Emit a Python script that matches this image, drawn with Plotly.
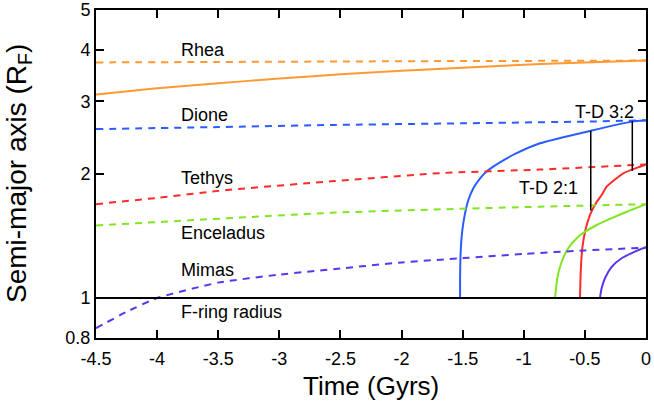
import math

import plotly.graph_objects as go

# time in Gyr (negative = past), semi-major axis in F-ring radii
# dashed = present-day orbits traced back, solid = migration tracks
RHEA_T_DASH = [-4.5, -3.5, -2.5, -1.5, -0.5, 0.0]
RHEA_A_DASH = [3.73, 3.74, 3.75, 3.76, 3.765, 3.77]
RHEA_T = [-4.5, -4.0, -3.5, -3.0, -2.5, -2.0, -1.5, -1.0, -0.5, 0.0]
RHEA_A = [3.12, 3.23, 3.32, 3.41, 3.49, 3.56, 3.62, 3.68, 3.73, 3.77]

DIONE_T_DASH = [-4.5, -3.5, -2.58, -1.5, -0.5, 0.0]
DIONE_A_DASH = [2.57, 2.60, 2.63, 2.655, 2.68, 2.70]
DIONE_T = [-1.521, -1.521, -1.5155, -1.5024, -1.4804, -1.4534, -1.4125, -1.3577,
           -1.2898, -1.2081, -1.0715, -0.867, -0.452, -0.115, 0.0]
DIONE_A = [1.0, 1.127, 1.308, 1.463, 1.606, 1.730, 1.846, 1.953,
           2.045, 2.123, 2.237, 2.375, 2.547, 2.68, 2.70]

TETHYS_T_DASH = [-4.5, -4.0, -3.5, -2.58, -1.68, -0.87, 0.0]
TETHYS_A_DASH = [1.69, 1.75, 1.82, 1.92, 2.01, 2.05, 2.11]
TETHYS_T = [-0.540, -0.534, -0.521, -0.499, -0.458, -0.403, -0.363, -0.322, -0.186, -0.05, 0.0]
TETHYS_A = [1.0, 1.158, 1.321, 1.449, 1.591, 1.713, 1.778, 1.863, 2.008, 2.083, 2.11]

ENCEL_T_DASH = [-4.5, -2.58, -1.68, -0.87, 0.0]
ENCEL_A_DASH = [1.50, 1.61, 1.642, 1.666, 1.69]
ENCEL_T = [-0.744, -0.726, -0.690, -0.636, -0.567, -0.499, -0.403, -0.295, -0.158, 0.0]
ENCEL_A = [1.0, 1.117, 1.225, 1.321, 1.397, 1.449, 1.504, 1.556, 1.620, 1.69]

MIMAS_T_DASH = [-4.5, -4.25, -4.0, -3.5, -3.0, -2.5, -2.0, -1.5, -1.0, -0.5, 0.0]
MIMAS_A_DASH = [0.845, 0.926, 1.0, 1.09, 1.14, 1.18, 1.22, 1.25, 1.28, 1.305, 1.325]
MIMAS_T = [-0.377, -0.363, -0.336, -0.281, -0.199, -0.104, 0.0]
MIMAS_A = [1.0, 1.056, 1.117, 1.191, 1.249, 1.291, 1.328]

FRING_T = [-4.5, 0.0]
FRING_A = [1.0, 1.0]

# resonance markers: (time, lower a, upper a)
TD21 = (-0.452, 1.63, 2.547)
TD32 = (-0.112, 2.037, 2.69)

Y_TICKS = [0.8, 1, 2, 3, 4, 5]
X_TICKS = [-4.5, -4, -3.5, -3, -2.5, -2, -1.5, -1, -0.5, 0]

ORANGE = "#FF9933"
BLUE = "#2B5CFF"
RED = "#FF2A2A"
GREEN = "#80E620"
PURPLE = "#5A35F0"

DASH = "7px,6px"
LW = 2

fig = go.Figure()


def add_line(t, a, color, dash="solid"):
    fig.add_trace(go.Scatter(
        x=t, y=a, mode="lines",
        line=dict(color=color, width=LW, dash=dash, shape="spline", smoothing=0.5),
        showlegend=False, hoverinfo="skip",
    ))


add_line(RHEA_T_DASH, RHEA_A_DASH, ORANGE, DASH)
add_line(RHEA_T, RHEA_A, ORANGE)
add_line(DIONE_T_DASH, DIONE_A_DASH, BLUE, DASH)
add_line(DIONE_T, DIONE_A, BLUE)
add_line(TETHYS_T_DASH, TETHYS_A_DASH, RED, DASH)
add_line(TETHYS_T, TETHYS_A, RED)
add_line(ENCEL_T_DASH, ENCEL_A_DASH, GREEN, DASH)
add_line(ENCEL_T, ENCEL_A, GREEN)
add_line(MIMAS_T_DASH, MIMAS_A_DASH, PURPLE, DASH)
add_line(MIMAS_T, MIMAS_A, PURPLE)
add_line(FRING_T, FRING_A, "black")

for t, lo, hi in (TD21, TD32):
    fig.add_trace(go.Scatter(
        x=[t, t], y=[lo, hi], mode="lines",
        line=dict(color="black", width=1.5),
        showlegend=False, hoverinfo="skip",
    ))

# annotations on a log axis take log10 positions
labels = [
    ("Rhea", -3.82, 4.0, "left"),
    ("Dione", -3.82, 2.78, "left"),
    ("Tethys", -3.82, 1.956, "left"),
    ("Enceladus", -3.82, 1.44, "left"),
    ("Mimas", -3.82, 1.17, "left"),
    ("F-ring radius", -3.82, 0.925, "left"),
    ("T-D 3:2", -0.34, 2.83, "center"),
    ("T-D 2:1", -0.798, 1.85, "center"),
]
for txt, x, y, anchor in labels:
    fig.add_annotation(x=x, y=math.log10(y), text=txt, showarrow=False,
                       xanchor=anchor, yanchor="middle", font=dict(size=18))

# axis titles placed by hand so the margins stay fixed
fig.add_annotation(x=0.5, y=0, xref="paper", yref="paper", yshift=-48,
                   text="Time (Gyrs)", showarrow=False,
                   xanchor="center", yanchor="middle", font=dict(size=26))
fig.add_annotation(x=0, y=0.5, xref="paper", yref="paper", xshift=-78,
                   text="Semi-major axis (R<sub>F</sub>)", textangle=-90, showarrow=False,
                   xanchor="center", yanchor="middle", font=dict(size=28))

axis_common = dict(
    showline=True, linecolor="black", linewidth=2, mirror="ticks",
    ticks="inside", ticklen=8, tickwidth=1.5, tickcolor="black",
    showgrid=False, zeroline=False, automargin=False,
    tickfont=dict(size=18, color="black"),
)

fig.update_xaxes(
    range=[-4.5, 0], tickvals=X_TICKS, ticktext=[f"{v:g}" for v in X_TICKS],
    ticklabelstandoff=3,
    **axis_common,
)
fig.update_yaxes(
    type="log", range=[math.log10(0.8), math.log10(5)],
    tickvals=Y_TICKS, ticktext=[f"{v:g}" for v in Y_TICKS],
    **axis_common,
)

fig.update_layout(
    width=654, height=409,
    margin=dict(l=96, r=8, t=10, b=71),
    plot_bgcolor="white", paper_bgcolor="white",
    font=dict(family="Liberation Sans, Arial, Helvetica, sans-serif", color="black"),
)

# drop the browser's default body margin so the figure sits at the page corner
fig.write_html("out.html", config={"displayModeBar": False},
               post_script="document.body.style.margin = '0';")
